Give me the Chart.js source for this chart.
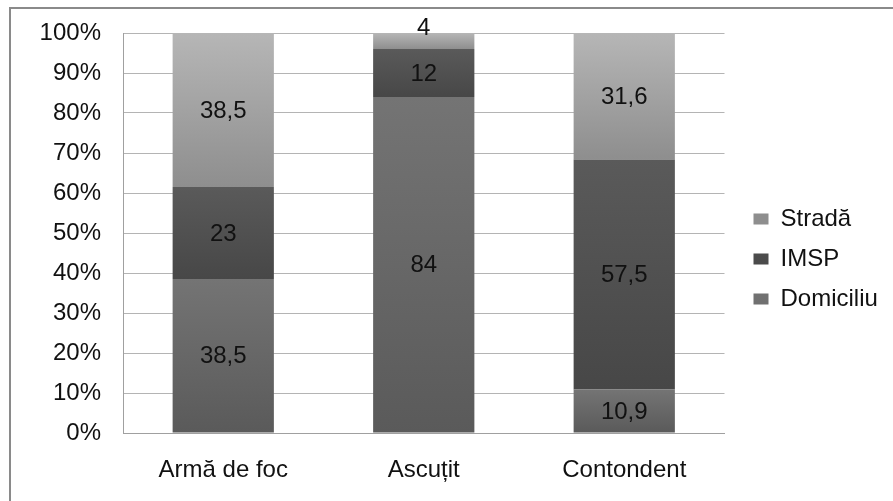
<!DOCTYPE html>
<html>
<head>
<meta charset="utf-8">
<script src="https://cdn.jsdelivr.net/npm/chart.js@4"></script>
<style>
html,body{margin:0;padding:0;background:#fff;}
#wrap{width:893px;height:501px;position:relative;}
</style>
</head>
<body>
<div id="wrap"><canvas id="c" width="893" height="501"></canvas></div>
<script>
const categories = ['Armă de foc', 'Ascuțit', 'Contondent'];
const seriesNames = ['Domiciliu', 'IMSP', 'Stradă'];
const domiciliu = [38.5, 84, 10.9];
const imsp = [23, 12, 57.5];
const strada = [38.5, 4, 31.6];
const yTicks = [0, 10, 20, 30, 40, 50, 60, 70, 80, 90, 100];

const seriesData = [domiciliu, imsp, strada];
const baseColors = ['#686868', '#4e4e4e', '#a4a4a4'];
const gradTop = ['#747474', '#5a5a5a', '#b6b6b6'];
const gradBot = ['#5a5a5a', '#474747', '#8e8e8e'];
const FONT = '"Liberation Sans", Arial, sans-serif';
const FS = 24;

function segFill(i) {
  return function (ctx) {
    if (ctx.type !== 'data') return baseColors[i];
    const chart = ctx.chart;
    const y = chart.scales && chart.scales.y;
    if (!y || !chart.chartArea) return baseColors[i];
    let start = 0;
    for (let k = 0; k < i; k++) start += seriesData[k][ctx.dataIndex];
    const end = start + seriesData[i][ctx.dataIndex];
    const top = y.getPixelForValue(end);
    const bot = y.getPixelForValue(start);
    if (!isFinite(top) || !isFinite(bot) || top === bot) return baseColors[i];
    const g = chart.ctx.createLinearGradient(0, top, 0, bot);
    g.addColorStop(0, gradTop[i]);
    g.addColorStop(1, gradBot[i]);
    return g;
  };
}

const datasets = seriesNames.map((n, i) => ({
  label: n,
  data: seriesData[i],
  backgroundColor: segFill(i),
  borderWidth: 0,
  categoryPercentage: 1,
  barPercentage: 0.505
}));

const frame = {
  id: 'frame',
  beforeDraw(chart) {
    const c = chart.ctx;
    c.save();
    c.strokeStyle = '#8a8a8a';
    c.lineWidth = 2;
    c.beginPath();
    c.moveTo(10, 501);
    c.lineTo(10, 8);
    c.lineTo(893, 8);
    c.stroke();
    c.restore();
  }
};

const labels = {
  id: 'segLabels',
  afterDatasetsDraw(chart) {
    const c = chart.ctx;
    c.save();
    c.font = FS + 'px ' + FONT;
    c.fillStyle = '#111';
    c.textAlign = 'center';
    c.textBaseline = 'middle';
    chart.data.datasets.forEach((ds, di) => {
      const meta = chart.getDatasetMeta(di);
      meta.data.forEach((el, i) => {
        const v = ds.data[i];
        const h = Math.abs(el.base - el.y);
        let yy = (el.y + el.base) / 2;
        if (h < FS) yy = el.y - 6;
        c.fillText(String(v).replace('.', ','), el.x, yy + 1);
      });
    });
    c.restore();
  }
};

new Chart(document.getElementById('c'), {
  type: 'bar',
  data: { labels: categories, datasets },
  options: {
    responsive: false,
    animation: false,
    devicePixelRatio: 1,
    layout: { padding: { top: 33, left: 0, right: 8, bottom: 16 } },
    font: { family: FONT },
    scales: {
      x: {
        stacked: true,
        grid: { display: false, drawTicks: false },
        border: { display: true, color: '#a0a0a0', width: 1 },
        ticks: { color: '#111', font: { family: FONT, size: FS }, padding: 23 },
        afterFit(s) { s.height = 52; s.paddingLeft = 0; s.paddingRight = 0; }
      },
      y: {
        stacked: true,
        min: 0,
        max: 100,
        afterBuildTicks(scale) { scale.ticks = yTicks.map(v => ({ value: v })); },
        grid: { color: '#b4b4b4', lineWidth: 1, drawTicks: false },
        border: { display: true, color: '#a0a0a0', width: 1 },
        ticks: {
          color: '#111',
          font: { family: FONT, size: FS },
          padding: 22,
          callback: v => v + '%'
        },
        afterFit(s) { s.width = 123; s.paddingTop = 0; s.paddingBottom = 0; }
      },
      gap: {
        type: 'linear',
        position: 'right',
        display: true,
        grid: { display: false, drawTicks: false },
        border: { display: false },
        ticks: { display: false },
        afterFit(s) { s.width = 13; s.paddingTop = 0; s.paddingBottom = 0; }
      }
    },
    plugins: {
      legend: {
        position: 'right',
        reverse: true,
        labels: {
          boxWidth: 15,
          boxHeight: 11,
          padding: 16,
          color: '#111',
          font: { family: FONT, size: FS }
        }
      },
      tooltip: { enabled: false }
    }
  },
  plugins: [frame, labels]
});
</script>
</body>
</html>
